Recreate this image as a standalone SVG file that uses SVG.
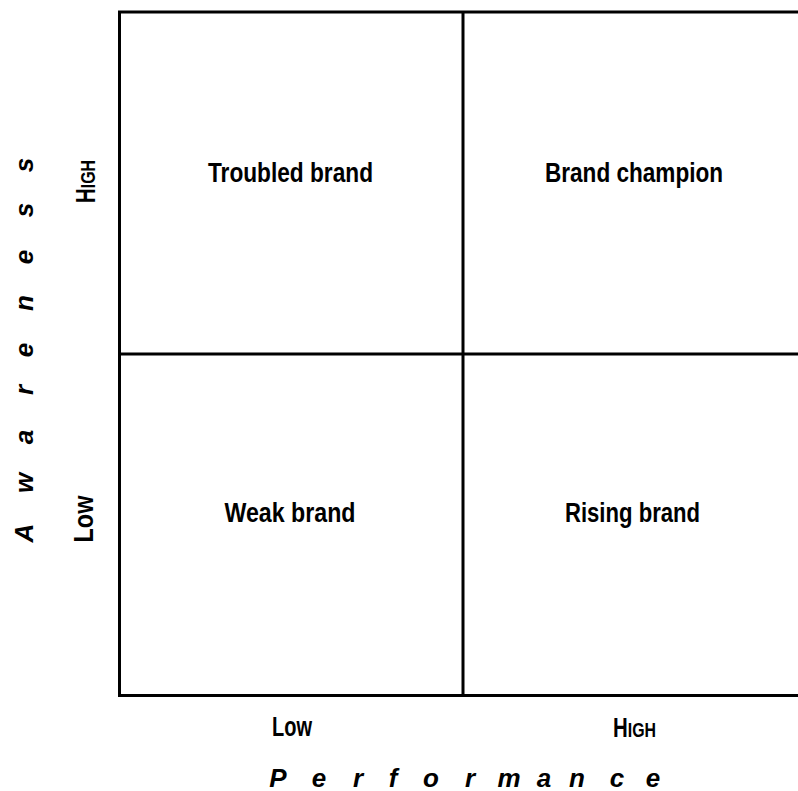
<svg xmlns="http://www.w3.org/2000/svg" width="798" height="791" viewBox="0 0 798 791">
<style>
.ln{stroke:#000;stroke-width:3;fill:none}
.t{font-family:"Liberation Sans",Arial,sans-serif;font-weight:bold;font-size:27px;fill:#000;text-anchor:middle}
.ax{font-family:"Liberation Sans",Arial,sans-serif;font-weight:bold;font-style:italic;font-size:26px;fill:#000;text-anchor:middle}
</style>
<rect width="798" height="791" fill="#fff"/>
<g id="grid">
<path class="ln" d="M119.5 12 H798 M119.5 10.5 V697 M118 695.5 H798 M463 12 V695.5 M119.5 354 H798"/>
</g>
<g id="troubled-brand"><text class="t" x="290.5" y="182" textLength="165" lengthAdjust="spacingAndGlyphs">Troubled brand</text></g>
<g id="brand-champion"><text class="t" x="634" y="182" textLength="178" lengthAdjust="spacingAndGlyphs">Brand champion</text></g>
<g id="weak-brand"><text class="t" x="290" y="522" textLength="131" lengthAdjust="spacingAndGlyphs">Weak brand</text></g>
<g id="rising-brand"><text class="t" x="632.5" y="522" textLength="135" lengthAdjust="spacingAndGlyphs">Rising brand</text></g>
<g id="x-axis">
<text class="t" x="292" y="736" textLength="40" lengthAdjust="spacingAndGlyphs">Low</text>
<text class="t" x="634.5" y="737" textLength="43" lengthAdjust="spacingAndGlyphs">H<tspan font-size="21">IGH</tspan></text>
<text class="ax" y="787" x="278 319 358 393 431 470 509 544 577 617 653">Performance</text>
</g>
<g id="y-axis">
<text class="t" transform="translate(95,0) rotate(-90)" x="-181.5" y="0" textLength="43" lengthAdjust="spacingAndGlyphs">H<tspan font-size="21">IGH</tspan></text>
<text class="t" transform="translate(93,0) rotate(-90)" x="-519" y="0" textLength="47" lengthAdjust="spacingAndGlyphs">Low</text>
<text class="ax" transform="translate(33,0) rotate(-90)" y="0" x="-533 -483 -437 -390 -350 -303 -257 -210 -165">Awareness</text>
</g>
</svg>
